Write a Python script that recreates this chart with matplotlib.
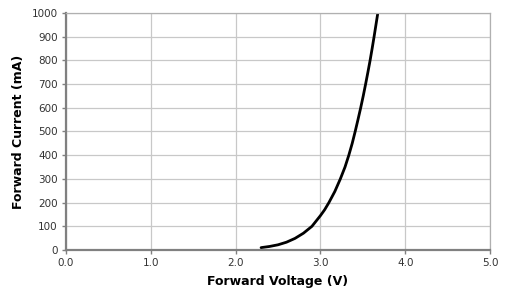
import numpy as np
import matplotlib
matplotlib.use("Agg")
import matplotlib.pyplot as plt

# values
voltage = [2.30, 2.40, 2.50, 2.60, 2.70, 2.80, 2.90, 3.00, 3.05, 3.10, 3.17, 3.235,
           3.29, 3.335, 3.375, 3.41, 3.443, 3.475, 3.505, 3.533, 3.56, 3.586, 3.61,
           3.633, 3.655, 3.677]
current = [10, 15, 22, 33, 49, 71, 100, 145, 170, 200, 247, 300,
           350, 400, 450, 500, 550, 600, 650, 700, 750, 800, 850,
           900, 950, 1000]

xticks = [0.0, 1.0, 2.0, 3.0, 4.0, 5.0]
yticks = list(range(0, 1001, 100))

plt.rcParams['font.family'] = ['DejaVu Sans']
fig = plt.figure(figsize=(5.16, 2.95), dpi=100)
ax = fig.add_axes([0.128, 0.1525, 0.8216, 0.8035])

ax.plot(voltage, current, color='black', lw=2.0, solid_capstyle='round',
        solid_joinstyle='round')

ax.set_xlim(0, 5)
ax.set_ylim(0, 1000)
ax.set_xticks(xticks)
ax.set_xticklabels(["%.1f" % t for t in xticks])
ax.set_yticks(yticks)
ax.grid(True, color='#c8c8c8', lw=0.9)
ax.set_axisbelow(True)
ax.tick_params(labelsize=7.5, colors='#808080', length=3, width=1, labelcolor='#333333', pad=3)

for s in ['top', 'right']:
    ax.spines[s].set_color('#b0b0b0')
    ax.spines[s].set_linewidth(0.9)
for s in ['left', 'bottom']:
    ax.spines[s].set_color('#808080')
    ax.spines[s].set_linewidth(1.6)

ax.set_xlabel("Forward Voltage (V)", fontsize=9, fontweight='bold', labelpad=5)
ax.set_ylabel("Forward Current (mA)", fontsize=9, fontweight='bold', labelpad=5)

fig.savefig("out.png", dpi=100)
